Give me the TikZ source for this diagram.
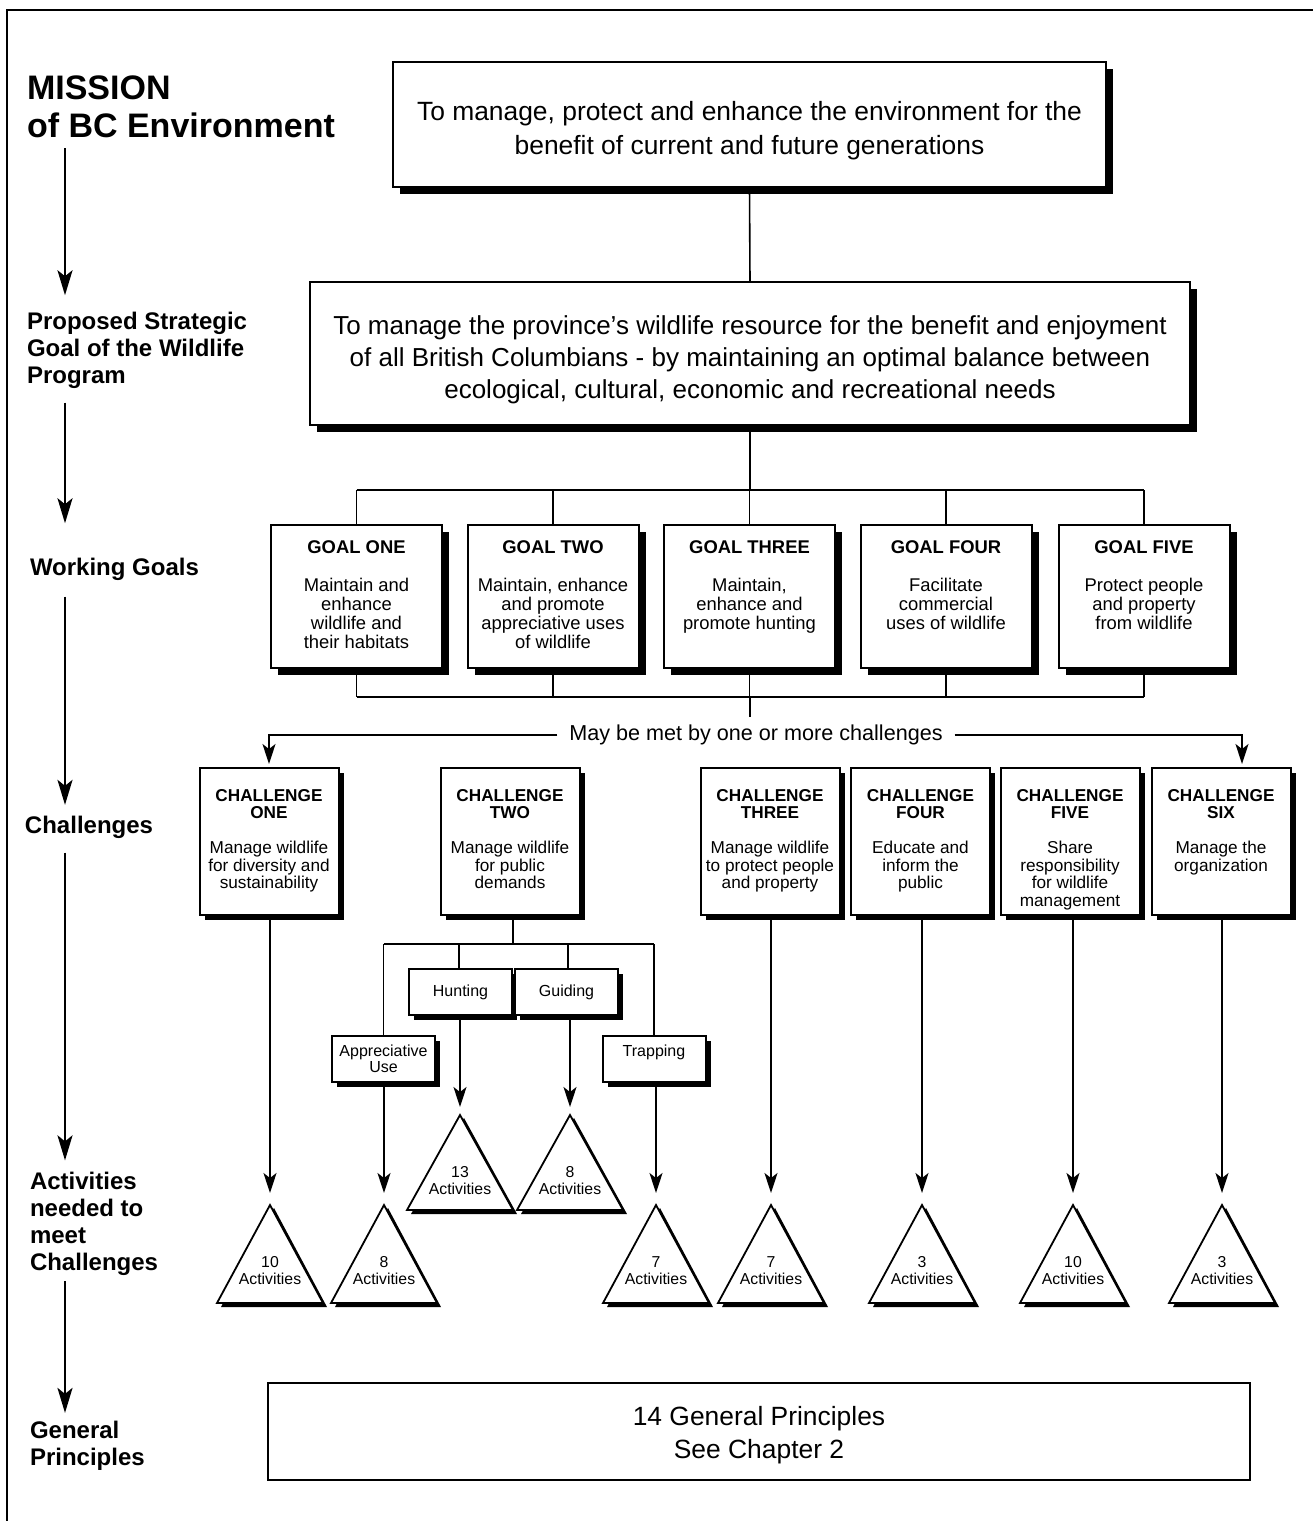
\documentclass[tikz,border=0pt]{standalone}
\usepackage{fontspec}
\setmainfont{Liberation Sans}
\usetikzlibrary{arrows.meta,shadows,calc}
\newcommand\acttri[5]{%
  \fill (#2+4,#3+3) -- (#2+57,#4+4) -- (#2-49,#4+4) -- cycle;
  \draw[line width=0.9pt,fill=white,line join=miter] (#2,#3) -- (#2+53,#4) -- (#2-53,#4) -- cycle;
  \coordinate (#1) at (#2,#3);
  \node[tritext] (#1txt) at (#2,#3+66) {#5\\Activities};
}
\begin{document}
\begin{tikzpicture}[x=0.5pt,y=-0.5pt,
  every node/.style={inner sep=0pt,outer sep=0pt},
  conn/.style={line width=0.8pt},
  arr/.style={conn,-{Stealth[length=10pt,width=6.5pt,inset=2.5pt]}},
  larr/.style={line width=1.3pt,-{Stealth[length=12.5pt,width=7.5pt,inset=3pt]}},
  frame/.style={draw,line width=1pt,fill=white},
  shadowed/.style={general shadow={fill=black,shadow xshift=#1,shadow yshift=-#1}},
  bigbox/.style={frame,shadowed=3.5pt},
  bigtext/.style={align=center},
  goalbox/.style={frame,shadowed=3.5pt,minimum width=85.5pt,minimum height=71.5pt},
  chbox/.style={frame,shadowed=2.5pt,minimum width=69.5pt,minimum height=73.5pt},
  subbox/.style={frame,shadowed=2.5pt,minimum width=51.5pt,minimum height=23pt,font=\fontsize{8}{8}\selectfont,align=center},
  goaltext/.style={anchor=north,align=center,font=\fontsize{9.2}{9.5}\selectfont},
  chtext/.style={anchor=north,align=center,font=\fontsize{8.6}{8.75}\selectfont},
  lefttext/.style={anchor=west,align=left,font=\bfseries\fontsize{12}{13.5}\selectfont},
  tritext/.style={align=center,font=\fontsize{7.9}{8.5}\selectfont},
]
\useasboundingbox (0,0) rectangle (1313,1521);
\fill[white] (0,0) rectangle (1313,1521);
% outer frame
\draw[line width=1.2pt] (7,1521) -- (7,10) -- (1313,10);

% left column
\node[lefttext,font=\bfseries\fontsize{17}{19}\selectfont] (lm) at (27,107) {MISSION\\of BC Environment};
\node[lefttext] (lp) at (27,350.5) {Proposed Strategic\\Goal of the Wildlife\\Program};
\node[lefttext] (lw) at (30,569.5) {Working Goals};
\node[lefttext] (lc) at (25,827.5) {Challenges};
\node[lefttext] (la) at (30,1223.5) {Activities\\needed to\\meet\\Challenges};
\node[lefttext] (lg) at (30,1446) {General\\Principles};
\coordinate (ax) at (65,0);
\draw[larr,shorten <=5pt,shorten >=8.5pt] (lm.south -| ax) -- (lp.north -| ax);
\draw[larr,shorten <=7pt,shorten >=17.5pt] (lp.south -| ax) -- (lw.north -| ax);
\draw[larr,shorten <=8pt,shorten >=5.7pt] (lw.south -| ax) -- (lc.north -| ax);
\draw[larr,shorten <=7pt,shorten >=5.7pt] (lc.south -| ax) -- (la.north -| ax);
\draw[larr,shorten <=3pt,shorten >=4.2pt] (la.south -| ax) -- (lg.north -| ax);

% mission and strategic goal
\node[bigbox,minimum width=356.5pt,minimum height=62.5pt] (mis) at (749.5,124.5) {};
\node[bigtext,font=\fontsize{13.2}{17}\selectfont] (mist) at (749.5,130.5)
  {To manage, protect and enhance the environment for the\\benefit of current and future generations};
\node[bigbox,minimum width=440pt,minimum height=71.5pt] (sg) at (750,353.5) {};
\node[bigtext,font=\fontsize{13}{16}\selectfont] (sgt) at (750,359.5)
  {To manage the province's wildlife resource for the benefit and enjoyment\\of all British Columbians - by maintaining an optimal balance between\\ecological, cultural, economic and recreational needs};
\draw[conn] (mis.south) -- (sg.north);

% working goals
\node[goalbox] (g1) at (356.5,596.5) {};
\node[goalbox] (g2) at (553,596.5) {};
\node[goalbox] (g3) at (749.5,596.5) {};
\node[goalbox] (g4) at (946,596.5) {};
\node[goalbox] (g5) at (1144,596.5) {};
\node[goaltext] (g1t) at ([yshift=-8pt]g1.north) {\bfseries GOAL ONE\\[9.5pt]Maintain and\\enhance\\wildlife and\\their habitats};
\node[goaltext] (g2t) at ([yshift=-8pt]g2.north) {\bfseries GOAL TWO\\[9.5pt]Maintain, enhance\\and promote\\appreciative uses\\of wildlife};
\node[goaltext] (g3t) at ([yshift=-8pt]g3.north) {\bfseries GOAL THREE\\[9.5pt]Maintain,\\enhance and\\promote hunting};
\node[goaltext] (g4t) at ([yshift=-8pt]g4.north) {\bfseries GOAL FOUR\\[9.5pt]Facilitate\\commercial\\uses of wildlife};
\node[goaltext] (g5t) at ([yshift=-8pt]g5.north) {\bfseries GOAL FIVE\\[9.5pt]Protect people\\and property\\from wildlife};

\coordinate (tb) at (750,490);
\coordinate (bb) at (750,697);
\draw[conn] (sg.south) -- (tb);
\draw[conn] (g1.north |- tb) -- (g5.north |- tb);
\foreach \g in {g1,g2,g3,g4,g5}{
  \draw[conn] (\g.north |- tb) -- (\g.north);
  \draw[conn] (\g.south) -- (\g.south |- bb);
}
\draw[conn] (g1.south |- bb) -- (g5.south |- bb);

% challenges
\node[font=\fontsize{10.8}{12}\selectfont,inner xsep=6pt] (maybe) at (756,735) {May be met by one or more challenges};
\draw[conn] (bb) -- ([yshift=4pt]maybe.north -| bb);

\node[chbox] (c1) at (269,841.5) {};
\node[chbox] (c2) at (510,841.5) {};
\node[chbox] (c3) at (770,841.5) {};
\node[chbox] (c4) at (920.5,841.5) {};
\node[chbox] (c5) at (1070,841.5) {};
\node[chbox] (c6) at (1221,841.5) {};
\node[chtext] (c1t) at ([yshift=-10.5pt]c1.north) {\bfseries CHALLENGE\\\bfseries ONE\\[8.75pt]Manage wildlife\\for diversity and\\sustainability};
\node[chtext] (c2t) at ([yshift=-10.5pt]c2.north) {\bfseries CHALLENGE\\\bfseries TWO\\[8.75pt]Manage wildlife\\for public\\demands};
\node[chtext] (c3t) at ([yshift=-10.5pt]c3.north) {\bfseries CHALLENGE\\\bfseries THREE\\[8.75pt]Manage wildlife\\to protect people\\and property};
\node[chtext] (c4t) at ([yshift=-10.5pt]c4.north) {\bfseries CHALLENGE\\\bfseries FOUR\\[8.75pt]Educate and\\inform the\\public};
\node[chtext] (c5t) at ([yshift=-10.5pt]c5.north) {\bfseries CHALLENGE\\\bfseries FIVE\\[8.75pt]Share\\responsibility\\for wildlife\\management};
\node[chtext] (c6t) at ([yshift=-10.5pt]c6.north) {\bfseries CHALLENGE\\\bfseries SIX\\[8.75pt]Manage the\\organization};

\coordinate (c6a) at (1242,0);
\draw[arr,shorten >=2pt] (maybe.west) -- (maybe.west -| c1.north) -- (c1.north);
\draw[arr,shorten >=2pt] (maybe.east) -- (maybe.east -| c6a) -- (c6.north -| c6a);

% challenge two breakdown
\node[subbox] (shunt) at (460.5,992) {Hunting};
\node[subbox] (sguide) at (566.5,992) {Guiding};
\node[subbox] (sapp) at (383.5,1059) {Appreciative\\Use};
\node[subbox] (strap) at (654,1058.5) {Trapping\\[0pt]\mbox{}};
\coordinate (bus2) at (513,944);
\draw[conn] (c2.south -| bus2) -- (bus2);
\draw[conn] (bus2 -| sapp) -- (bus2 -| strap);
\draw[conn] (bus2 -| sapp) -- (sapp.north);
\draw[conn] (bus2 -| 459,0) -- (shunt.north -| 459,0);
\draw[conn] (bus2 -| 568,0) -- (sguide.north -| 568,0);
\draw[conn] (bus2 -| strap) -- (strap.north);

% activity triangles
\acttri{ta}{460}{1115}{1210}{13}
\acttri{tb2}{570}{1115}{1210}{8}
\acttri{t1}{270}{1205}{1303}{10}
\acttri{tapp}{384}{1205}{1303}{8}
\acttri{ttrap}{656}{1205}{1303}{7}
\acttri{t3}{771}{1205}{1303}{7}
\acttri{t4}{922}{1205}{1303}{3}
\acttri{t5}{1073}{1205}{1303}{10}
\acttri{t6}{1222}{1205}{1303}{3}

\draw[arr] (ta |- shunt.south) -- ([yshift=4pt]ta);
\draw[arr] (tb2 |- sguide.south) -- ([yshift=4pt]tb2);
\draw[arr] (t1 |- c1.south) -- ([yshift=6pt]t1);
\draw[arr] (tapp |- sapp.south) -- ([yshift=6pt]tapp);
\draw[arr] (ttrap |- strap.south) -- ([yshift=6pt]ttrap);
\draw[arr] (t3 |- c3.south) -- ([yshift=6pt]t3);
\draw[arr] (t4 |- c4.south) -- ([yshift=6pt]t4);
\draw[arr] (t5 |- c5.south) -- ([yshift=6pt]t5);
\draw[arr] (t6 |- c6.south) -- ([yshift=6pt]t6);

% general principles
\node[draw,line width=0.8pt,minimum width=491pt,minimum height=48.5pt] (gp) at (759,1431.5) {};
\node[bigtext,font=\fontsize{13.2}{16.5}\selectfont] (gpt) at (759,1435.5)
  {14 General Principles\\See Chapter 2};
\end{tikzpicture}
\end{document}
